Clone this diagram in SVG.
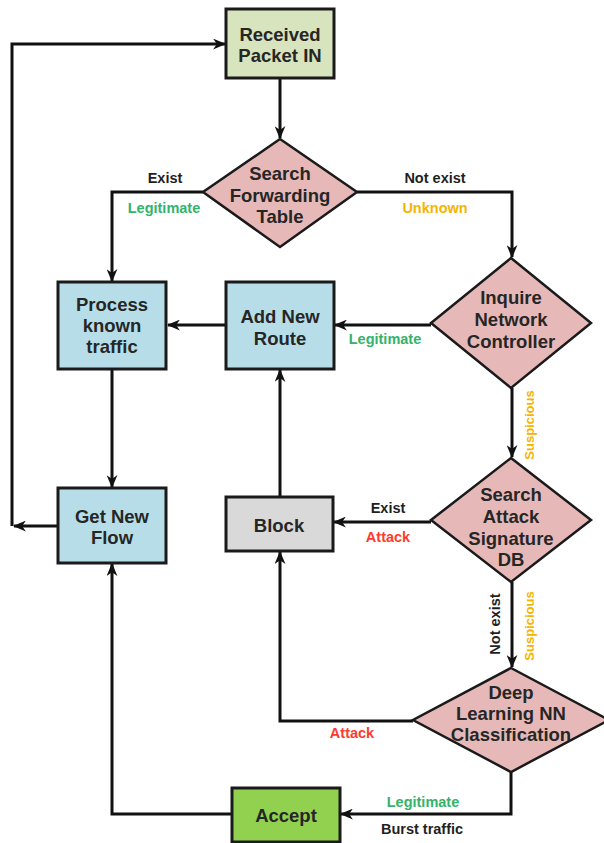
<svg xmlns="http://www.w3.org/2000/svg" width="604" height="843" viewBox="0 0 604 843">
<defs>
<marker id="ah" viewBox="0 0 12 10" refX="11" refY="5" markerWidth="13" markerHeight="11" markerUnits="userSpaceOnUse" orient="auto">
<path d="M0,0 L12,5 L0,10 L3.5,5 z" fill="#111"/>
</marker>
<style>
.box{stroke:#1a1a1a;stroke-width:3}
.dia{fill:#e6b9b8;stroke:#1a1a1a;stroke-width:2.5}
.nt{font-family:"Liberation Sans",Arial,sans-serif;font-weight:bold;font-size:18.5px;fill:#262626;text-anchor:middle}
.lb{font-family:"Liberation Sans",Arial,sans-serif;font-weight:bold;font-size:14.5px;text-anchor:middle}
.k{fill:#1f1f1f}.g{fill:#33b36b}.o{fill:#f5b400}.r{fill:#ff3b2e}
.c{fill:none;stroke:#111;stroke-width:3;marker-end:url(#ah)}
</style>
</defs>
<rect width="604" height="843" fill="#fff"/>
<g id="connectors">
<path class="c" d="M280,78 V138"/>
<path class="c" d="M203,192 H112 V281"/>
<path class="c" d="M357,192 H512 V257"/>
<path class="c" d="M431,325 H335"/>
<path class="c" d="M226,325 H168"/>
<path class="c" d="M112,369 V487"/>
<path class="c" d="M512,388 V457"/>
<path class="c" d="M431,522 H334"/>
<path class="c" d="M280,497 V370"/>
<path class="c" d="M512,582 V667"/>
<path class="c" d="M413,721 H280 V552"/>
<path class="c" d="M511,772 V814 H341"/>
<path class="c" d="M232,814 H112 V564"/>
<path class="c" d="M58,526 H14"/>
<path class="c" d="M12,526 V44 H225"/>
</g>
<g id="received">
<rect class="box" x="226" y="9" width="108" height="69" fill="#d7e4bd"/>
<text class="nt" x="280" y="41">Received</text>
<text class="nt" x="280" y="62">Packet IN</text>
</g>
<g id="search-forwarding">
<polygon class="dia" points="280,139 357,192 280,247 203,192"/>
<text class="nt" x="280" y="180">Search</text>
<text class="nt" x="280" y="202">Forwarding</text>
<text class="nt" x="280" y="223">Table</text>
</g>
<g id="process">
<rect class="box" x="58" y="282" width="108" height="87" fill="#b7dee8"/>
<text class="nt" x="112" y="311">Process</text>
<text class="nt" x="112" y="332">known</text>
<text class="nt" x="112" y="353">traffic</text>
</g>
<g id="add-route">
<rect class="box" x="226" y="282" width="108" height="87" fill="#b7dee8"/>
<text class="nt" x="280" y="323">Add New</text>
<text class="nt" x="280" y="345">Route</text>
</g>
<g id="inquire">
<polygon class="dia" points="511,258 591,323 511,388 431,323"/>
<text class="nt" x="511" y="304">Inquire</text>
<text class="nt" x="511" y="326">Network</text>
<text class="nt" x="511" y="348">Controller</text>
</g>
<g id="get-flow">
<rect class="box" x="58" y="488" width="108" height="75" fill="#b7dee8"/>
<text class="nt" x="112" y="523">Get New</text>
<text class="nt" x="112" y="544">Flow</text>
</g>
<g id="block">
<rect class="box" x="226" y="497" width="107" height="54" fill="#d9d9d9"/>
<text class="nt" x="279" y="532">Block</text>
</g>
<g id="search-attack">
<polygon class="dia" points="511,458 591,520 511,582 431,520"/>
<text class="nt" x="511" y="501">Search</text>
<text class="nt" x="511" y="523">Attack</text>
<text class="nt" x="511" y="545">Signature</text>
<text class="nt" x="511" y="566">DB</text>
</g>
<g id="deep-learning">
<polygon class="dia" points="511,668 609,720 511,772 413,720"/>
<text class="nt" x="511" y="699">Deep</text>
<text class="nt" x="511" y="720">Learning NN</text>
<text class="nt" x="511" y="741">Classification</text>
</g>
<g id="accept">
<rect class="box" x="232" y="788" width="108" height="54" fill="#92d050"/>
<text class="nt" x="286" y="822">Accept</text>
</g>
<g id="labels">
<text class="lb k" x="165" y="183">Exist</text>
<text class="lb g" x="164" y="213">Legitimate</text>
<text class="lb k" x="435" y="183">Not exist</text>
<text class="lb o" x="435" y="213">Unknown</text>
<text class="lb g" x="385" y="344">Legitimate</text>
<text class="lb o" transform="translate(534,425) rotate(-90)" style="font-size:13px">Suspicious</text>
<text class="lb k" x="388" y="513">Exist</text>
<text class="lb r" x="388" y="542">Attack</text>
<text class="lb k" transform="translate(500,624) rotate(-90)">Not exist</text>
<text class="lb o" transform="translate(534,626) rotate(-90)" style="font-size:13px">Suspicious</text>
<text class="lb r" x="352" y="738">Attack</text>
<text class="lb g" x="423" y="807">Legitimate</text>
<text class="lb k" x="422" y="834">Burst traffic</text>
</g>
</svg>
